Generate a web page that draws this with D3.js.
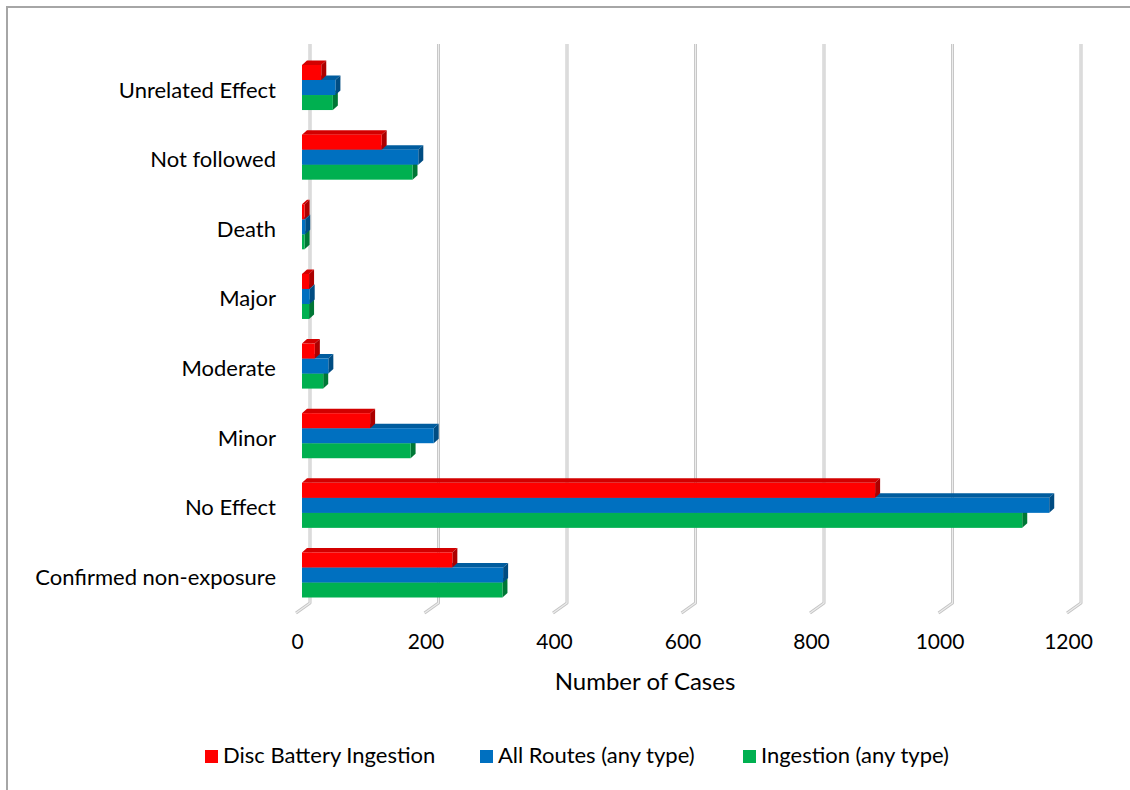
<!DOCTYPE html>
<html>
<head>
<meta charset="utf-8">
<script src="https://cdn.jsdelivr.net/npm/d3@7"></script>
<style>
  html, body { margin: 0; padding: 0; background: #ffffff; }
  svg { display: block; font-family: Lato, "Noto Sans", sans-serif; }
</style>
</head>
<body>
<svg id="chart" width="1130" height="790"></svg>
<script>
// Outcome categories, listed top to bottom
const categories = [
  "Unrelated Effect", "Not followed", "Death", "Major",
  "Moderate", "Minor", "No Effect", "Confirmed non-exposure"
];
const seriesNames = ["Disc Battery Ingestion", "All Routes (any type)", "Ingestion (any type)"];
const discBattery = [30, 124, 4, 11, 20, 106, 892, 234];
const allRoutes   = [52, 181, 5, 12, 41, 205, 1163, 313];
const ingestion   = [48, 172, 4, 11, 33, 169, 1121, 312];
const seriesColors = ["#ff0000", "#0070c0", "#00b050"];
const tickValues = [0, 200, 400, 600, 800, 1000, 1200];

const series = [discBattery, allRoutes, ingestion];

const svg = d3.select("#chart");

// chart frame
svg.append("path")
  .attr("d", "M7,790 L7,7 L1130,7")
  .attr("fill", "none").attr("stroke", "#a6a6a6").attr("stroke-width", 2);

// value scale (pixel length from the zero line)
const x = d3.scaleLinear().domain([0, 1200]).range([0, 771]);
const frontX = 302;   // zero line of the bars
const backX = 310;    // zero line of the back wall
const wallTop = 44, wallBottom = 603;
const floorDx = -14, floorDy = 10;

const y = d3.scaleBand().domain(categories)
  .range([52.7, 609.8]).paddingInner(0.353).paddingOuter(0.1765);
const ySub = d3.scaleBand().domain(d3.range(3)).range([0, y.bandwidth()]);

// gridlines on the back wall with their floor foot
const grid = svg.append("g");
tickValues.forEach(v => {
  const gx = backX + x(v);
  const d = `M${gx},${wallTop} L${gx},${wallBottom} L${gx + floorDx},${wallBottom + floorDy}`;
  grid.append("path").attr("d", d).attr("fill", "none")
    .attr("stroke", "#c4c4c4").attr("stroke-width", 3).attr("stroke-linejoin", "round");
  grid.append("path").attr("d", d).attr("fill", "none")
    .attr("stroke", "#ececec").attr("stroke-width", 1.2).attr("stroke-linejoin", "round");
});

// 3D bars: front face, top face and end face
const dx = 5, dy = -4.5;
const bars = svg.append("g");
categories.forEach((c, ci) => {
  // draw lower series first so the series above covers their top faces
  [2, 1, 0].forEach(si => {
    const v = series[si][ci];
    const col = d3.color(seriesColors[si]);
    const x0 = frontX, x1 = frontX + x(v);
    const y0 = y(c) + ySub(si), h = ySub.bandwidth();
    const g = bars.append("g");
    g.append("path")
      .attr("d", `M${x0},${y0} L${x0 + dx},${y0 + dy} L${x1 + dx},${y0 + dy} L${x1},${y0} Z`)
      .attr("fill", col.darker(0.55));
    g.append("path")
      .attr("d", `M${x1},${y0} L${x1 + dx},${y0 + dy} L${x1 + dx},${y0 + h + dy} L${x1},${y0 + h} Z`)
      .attr("fill", col.darker(1.1));
    g.append("rect")
      .attr("x", x0).attr("y", y0).attr("width", x1 - x0).attr("height", h)
      .attr("fill", col);
  });
});

// value axis labels
const axis = d3.axisBottom(x).tickValues(tickValues).tickFormat(d3.format("d"))
  .tickSize(0).tickPadding(0);
const ax = svg.append("g").attr("transform", `translate(297,649)`).call(axis);
ax.select(".domain").remove();
ax.selectAll("text").attr("font-size", 21).attr("fill", "#000")
  .attr("font-family", "Lato, 'Noto Sans', sans-serif").attr("dy", 0).attr("y", 0);

svg.append("text").attr("x", 645).attr("y", 690).attr("text-anchor", "middle")
  .attr("font-size", 24).attr("fill", "#000").text("Number of Cases");

// category labels
svg.append("g").selectAll("text").data(categories).join("text")
  .attr("x", 276).attr("y", d => y(d) + y.bandwidth() / 2 + 10)
  .attr("text-anchor", "end").attr("font-size", 22).attr("fill", "#000")
  .text(d => d);

// legend
const legendX = [205, 480, 743];
const lg = svg.append("g");
seriesNames.forEach((n, i) => {
  lg.append("rect").attr("x", legendX[i]).attr("y", 750).attr("width", 13).attr("height", 13)
    .attr("fill", seriesColors[i]);
  lg.append("text").attr("x", legendX[i] + 18).attr("y", 763)
    .attr("font-size", 22).attr("fill", "#000").text(n);
});
</script>
</body>
</html>
